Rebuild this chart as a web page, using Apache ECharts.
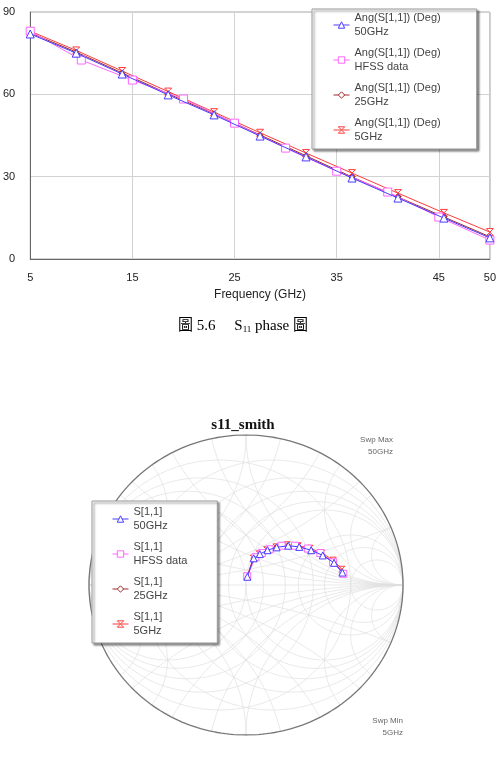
<!DOCTYPE html>
<html>
<head>
<meta charset="utf-8">
<title>S11 phase / s11_smith</title>
<script src="https://cdn.jsdelivr.net/npm/echarts@6.0.0/dist/echarts.min.js"></script>
<style>
  html, body { margin: 0; padding: 0; background: #fff; }
  #chart { width: 499px; height: 759px; }
</style>
</head>
<body>
<div id="chart"></div>
<script>
// --- phase plot: Ang(S[1,1]) in degrees vs frequency in GHz
const FREQ_SIM = [5, 9.5, 14, 18.5, 23, 27.5, 32, 36.5, 41, 45.5, 50];
const FREQ_HFSS = [5, 10, 15, 20, 25, 30, 35, 40, 45, 50];
const PHASE_50G = [82, 75, 67.4, 59.8, 52.5, 44.8, 37.2, 29.5, 22.2, 14.9, 7.7];
const PHASE_25G = [82.4, 75.4, 67.8, 60.2, 52.9, 45.2, 37.6, 29.9, 22.6, 15.3, 8.1];
const PHASE_5G = [83, 76, 68.5, 61, 53.5, 46, 38.6, 31.3, 24, 16.8, 9.8];
const PHASE_HFSS = [83, 72.5, 65.2, 58.3, 49.5, 40.4, 32, 24.4, 15.3, 6.9];
const X_TICKS = [5, 15, 25, 35, 45, 50];
const Y_TICKS = [0, 30, 60, 90];

// --- smith chart: S[1,1] as reflection coefficient (re, im)
const S50_RE = [0.0085, 0.049, 0.088, 0.137, 0.195, 0.269, 0.339, 0.415, 0.489, 0.561, 0.614];
const S50_IM = [0.055, 0.178, 0.206, 0.232, 0.251, 0.262, 0.254, 0.232, 0.197, 0.148, 0.083];
const S25_RE = [0.008, 0.048, 0.087, 0.136, 0.193, 0.267, 0.337, 0.413, 0.487, 0.56, 0.613];
const S25_IM = [0.056, 0.179, 0.207, 0.233, 0.252, 0.264, 0.256, 0.235, 0.201, 0.152, 0.087];
const S5_RE = [0.0074, 0.046, 0.084, 0.132, 0.19, 0.263, 0.333, 0.408, 0.482, 0.556, 0.611];
const S5_IM = [0.056, 0.179, 0.208, 0.235, 0.254, 0.268, 0.262, 0.245, 0.213, 0.166, 0.105];
const SHFSS_RE = [0.0079, 0.06, 0.101, 0.15, 0.227, 0.312, 0.394, 0.474, 0.555, 0.62];
const SHFSS_IM = [0.059, 0.185, 0.213, 0.238, 0.262, 0.262, 0.243, 0.213, 0.151, 0.075];

// grid circles of the smith chart (normalised r and x)
const SMITH_R = [0.2, 0.4, 0.6, 0.8, 1, 2, 3, 5];
const SMITH_X = [0.2, 0.4, 0.6, 0.8, 1, 2, 3, 5];

const FONT = "'Liberation Sans', Arial, sans-serif";
const HOURGLASS = "path://M0,0 L10,0 L0,10 L10,10 Z";

const TRACES = [
  { key: "50G", color: "#4a3cff", symbol: "triangle", size: 8 },
  { key: "HFSS", color: "#ff66ff", symbol: "rect", size: 8 },
  { key: "25G", color: "#9e2a2a", symbol: "diamond", size: 6 },
  { key: "5G", color: "#ff3b3b", symbol: HOURGLASS, size: 7 },
];
const SUFFIX = { "50G": "50GHz", HFSS: "HFSS data", "25G": "25GHz", "5G": "5GHz" };

const zip = (a, b) => a.map((v, i) => [v, b[i]]);

function circlePoints(cx, cy, r, a0, a1, n) {
  const pts = [];
  for (let i = 0; i <= n; i++) {
    const a = a0 + ((a1 - a0) * i) / n;
    pts.push([cx + r * Math.cos(a), cy + r * Math.sin(a)]);
  }
  return pts;
}

function reactanceArc(x) {
  const ax = Math.abs(x);
  const ex = -2 / (ax * ax + 1);
  const ey = (ax * ax - 1) / (ax * (ax * ax + 1));
  let end = Math.atan2(ey, ex);
  if (end > -Math.PI / 2) end -= 2 * Math.PI;
  const pts = circlePoints(1, 1 / ax, 1 / ax, -Math.PI / 2, end, 80);
  return x < 0 ? pts.map(([u, v]) => [u, -v]) : pts;
}

function buildSmithGrid() {
  const curves = [];
  SMITH_R.forEach((r) => {
    curves.push(circlePoints(r / (1 + r), 0, 1 / (1 + r), 0, 2 * Math.PI, 120));
  });
  SMITH_X.forEach((x) => {
    curves.push(reactanceArc(x));
    curves.push(reactanceArc(-x));
  });
  // admittance grid is the mirror image
  const mirrored = curves.map((c) => c.map(([u, v]) => [-u, v]));
  const all = curves.concat(mirrored);
  all.push([[-1, 0], [1, 0]]);
  return all.map((coords) => ({ coords }));
}

const phaseData = {
  "50G": zip(FREQ_SIM, PHASE_50G),
  HFSS: zip(FREQ_HFSS, PHASE_HFSS),
  "25G": zip(FREQ_SIM, PHASE_25G),
  "5G": zip(FREQ_SIM, PHASE_5G),
};
const smithData = {
  "50G": zip(S50_RE, S50_IM),
  HFSS: zip(SHFSS_RE, SHFSS_IM),
  "25G": zip(S25_RE, S25_IM),
  "5G": zip(S5_RE, S5_IM),
};

function traceSeries(trace, idx, name, data, gridIdx) {
  return {
    name,
    type: "line",
    xAxisIndex: gridIdx,
    yAxisIndex: gridIdx,
    data,
    symbol: trace.symbol,
    symbolSize: gridIdx === 0 ? trace.size : trace.size - 1,
    showAllSymbol: true,
    lineStyle: { color: trace.color, width: 1 },
    itemStyle: { color: "#fff", borderColor: trace.color, borderWidth: 1 },
    // first trace (50GHz) sits on top, as in the original plot
    z: 10 - idx,
    animation: false,
  };
}

const phaseNames = TRACES.map((t) => "Ang(S[1,1]) (Deg)\n" + SUFFIX[t.key]);
const smithNames = TRACES.map((t) => "S[1,1]\n" + SUFFIX[t.key]);

function legendItems(names) {
  return TRACES.map((t, i) => ({
    name: names[i],
    itemStyle: { color: "#fff", borderColor: t.color, borderWidth: 1 },
    lineStyle: { color: t.color, width: 1 },
  }));
}

const legendCommon = {
  orient: "vertical",
  selectedMode: false,
  itemWidth: 16,
  itemHeight: 8,
  itemGap: 7,
  backgroundColor: "#fff",
  borderColor: "#999",
  borderWidth: 1,
  shadowColor: "rgba(0,0,0,0.45)",
  shadowBlur: 2,
  shadowOffsetX: 2,
  shadowOffsetY: 2,
  textStyle: { fontFamily: FONT, fontSize: 11, color: "#444", lineHeight: 14 },
};

const chart = echarts.init(document.getElementById("chart"), null, { renderer: "canvas" });

chart.setOption({
  animation: false,
  backgroundColor: "#fff",
  grid: [
    { left: 28, top: 12, width: 464, height: 247, show: true, borderColor: "#aaa", borderWidth: 1 },
    { left: 89, top: 435, width: 314, height: 300 },
  ],
  xAxis: [
    {
      type: "value",
      gridIndex: 0,
      min: X_TICKS[0],
      max: X_TICKS[X_TICKS.length - 1],
      interval: X_TICKS[1] - X_TICKS[0],
      name: "Frequency (GHz)",
      nameLocation: "middle",
      nameGap: 30,
      nameTextStyle: { fontFamily: FONT, fontSize: 12, color: "#222" },
      axisLine: { lineStyle: { color: "#666" } },
      axisTick: { show: false },
      axisLabel: { margin: 13, fontFamily: FONT, fontSize: 11, color: "#222" },
      splitLine: { lineStyle: { color: "#d2d2d2" } },
    },
    { type: "value", gridIndex: 1, min: -1, max: 1, show: false },
  ],
  yAxis: [
    {
      type: "value",
      gridIndex: 0,
      min: Y_TICKS[0],
      max: Y_TICKS[Y_TICKS.length - 1],
      interval: Y_TICKS[1] - Y_TICKS[0],
      axisLine: { show: true, lineStyle: { color: "#666" } },
      axisTick: { show: false },
      axisLabel: { margin: 15, fontFamily: FONT, fontSize: 11, color: "#222" },
      splitLine: { lineStyle: { color: "#d2d2d2" } },
    },
    { type: "value", gridIndex: 1, min: -1, max: 1, show: false },
  ],
  legend: [
    Object.assign({}, legendCommon, {
      left: 312,
      top: 9,
      padding: [2, 36, 5, 21],
      data: legendItems(phaseNames),
    }),
    Object.assign({}, legendCommon, {
      left: 92,
      top: 501,
      padding: [4, 30, 5, 20],
      data: legendItems(smithNames),
    }),
  ],
  graphic: [
    {
      type: "text",
      x: 243,
      y: 326,
      style: {
        text: "{a|圖 5.6　 S}{s|11}{a| phase 圖}",
        align: "center",
        verticalAlign: "middle",
        rich: {
          a: { fontFamily: "'Liberation Serif', 'Noto Sans CJK TC', serif", fontSize: 15, color: "#111" },
          s: { fontFamily: "'Liberation Serif', serif", fontSize: 9, color: "#111", padding: [8, 0, 0, 0] },
        },
      },
    },
    {
      type: "text",
      x: 243,
      y: 425,
      style: {
        text: "s11_smith",
        align: "center",
        verticalAlign: "middle",
        font: "bold 15px 'Liberation Serif', serif",
        fill: "#111",
      },
    },
    {
      type: "text",
      x: 393,
      y: 446,
      style: {
        text: "Swp Max\n50GHz",
        align: "right",
        verticalAlign: "middle",
        font: "8px " + FONT,
        lineHeight: 12,
        fill: "#666",
      },
    },
    {
      type: "text",
      x: 403,
      y: 727,
      style: {
        text: "Swp Min\n5GHz",
        align: "right",
        verticalAlign: "middle",
        font: "8px " + FONT,
        lineHeight: 12,
        fill: "#666",
      },
    },
  ],
  series: [
    {
      name: "smith-grid",
      type: "lines",
      coordinateSystem: "cartesian2d",
      xAxisIndex: 1,
      yAxisIndex: 1,
      polyline: true,
      silent: true,
      data: buildSmithGrid(),
      lineStyle: { color: "#e0e0e0", width: 0.7, opacity: 1 },
      z: 1,
    },
    {
      name: "smith-outline",
      type: "lines",
      coordinateSystem: "cartesian2d",
      xAxisIndex: 1,
      yAxisIndex: 1,
      polyline: true,
      silent: true,
      data: [{ coords: circlePoints(0, 0, 1, 0, 2 * Math.PI, 240) }],
      lineStyle: { color: "#777", width: 1.3, opacity: 1 },
      z: 2,
    },
    ...TRACES.map((t, i) => traceSeries(t, i, phaseNames[i], phaseData[t.key], 0)),
    ...TRACES.map((t, i) => traceSeries(t, i, smithNames[i], smithData[t.key], 1)),
  ],
});
</script>
</body>
</html>
